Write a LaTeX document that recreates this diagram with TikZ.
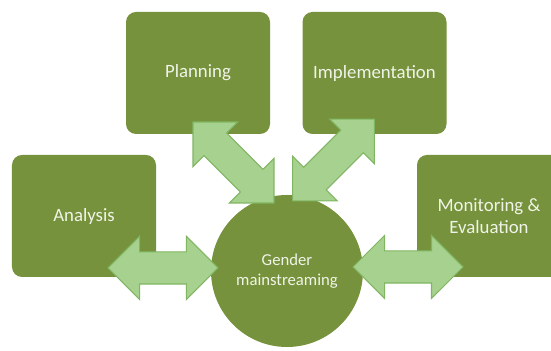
\documentclass[tikz,border=0pt]{standalone}
\usepackage{fontspec}
\setmainfont{Carlito}
\usetikzlibrary{shapes.arrows}
\definecolor{boxgreen}{RGB}{118,146,60}
\definecolor{arrowfill}{RGB}{166,209,142}
\definecolor{arrowline}{RGB}{128,182,98}
\definecolor{labelwhite}{RGB}{240,244,232}
\tikzset{
  stagebox/.style={rectangle, rounded corners=0.2cm, fill=boxgreen, minimum width=2.88cm,
    minimum height=2.44cm, text=labelwhite, align=center, font=\fontsize{10.7}{12.5}\selectfont},
  hub/.style={circle, fill=boxgreen, minimum size=3.04cm, inner sep=0pt, text=labelwhite,
    align=center, font=\fontsize{9.5}{11.4}\selectfont},
  fatarrow/.style={double arrow, double arrow head extend=0.31cm, double arrow tip angle=90,
    minimum height=#1, inner xsep=0pt, inner ysep=0.31cm, fill=arrowfill, draw=arrowline,
    line width=0.6pt},
}
\begin{document}
\begin{tikzpicture}
    \useasboundingbox (0,0) rectangle (11.02,7.02);
    \clip (0,0) rectangle (11.02,7.02);
    \node[stagebox] (plan) at (3.96,5.56) {Planning}; % top row
    \node[stagebox] (impl) at (7.49,5.56) {Implementation};
    \node[stagebox] (ana) at (1.68,2.70) {Analysis}; % side boxes
    \node[stagebox] (mon) at (9.78,2.70) {Monitoring \&\\Evaluation};
    \node[hub] (gm) at (5.74,1.60) {Gender\\mainstreaming}; % centre
    \node[fatarrow=2.2cm] (ana-gm) at (3.26,1.66) {}; % two-way arrows
    \node[fatarrow=2.2cm] (gm-mon) at (8.16,1.68) {};
    \node[fatarrow=2.29cm, rotate=-45] (plan-gm) at (4.67,3.77) {};
    \node[fatarrow=2.31cm, rotate=45] (gm-impl) at (6.67,3.82) {};
\end{tikzpicture}
\end{document}
